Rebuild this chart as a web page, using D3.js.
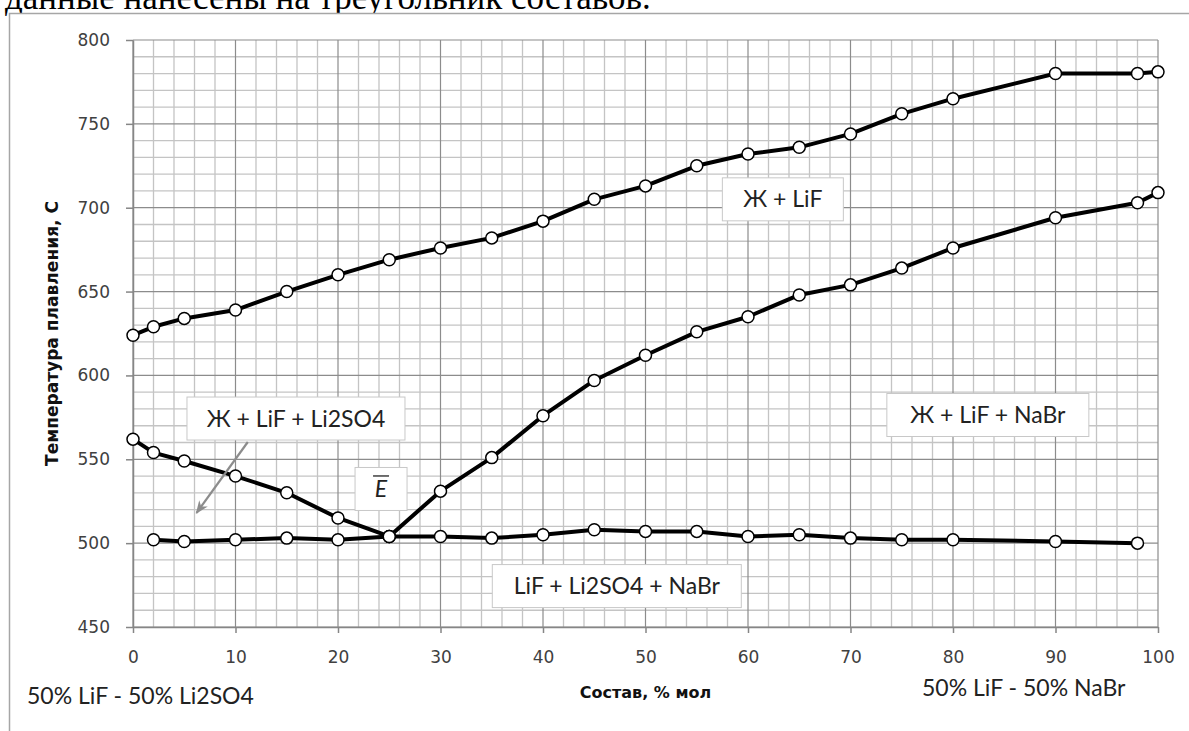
<!DOCTYPE html>
<html lang="ru">
<head>
<meta charset="UTF-8">
<title>Температура плавления</title>
<script src="https://cdn.jsdelivr.net/npm/d3@7"></script>
<style>
  html, body { margin: 0; padding: 0; background: #fff; }
  svg { display: block; }
</style>
</head>
<body>
<svg width="1189" height="731"></svg>
<script>
// --- данные ---
var xLiF = [0, 2, 5, 10, 15, 20, 25, 30, 35, 40, 45, 50, 55, 60, 65, 70, 75, 80, 90, 98, 100];
var tLiF = [624, 629, 634, 639, 650, 660, 669, 676, 682, 692, 705, 713, 725, 732, 736, 744, 756, 765, 780, 780, 781];

var xLi2SO4 = [0, 2, 5, 10, 15, 20, 25];
var tLi2SO4 = [562, 554, 549, 540, 530, 515, 504];

var xNaBr = [25, 30, 35, 40, 45, 50, 55, 60, 65, 70, 75, 80, 90, 98, 100];
var tNaBr = [504, 531, 551, 576, 597, 612, 626, 635, 648, 654, 664, 676, 694, 703, 709];

var xSolid = [2, 5, 10, 15, 20, 25, 30, 35, 40, 45, 50, 55, 60, 65, 70, 75, 80, 90, 98];
var tSolid = [502, 501, 502, 503, 502, 504, 504, 503, 505, 508, 507, 507, 504, 505, 503, 502, 502, 501, 500];

var xTicks = d3.range(0, 101, 10);
var yTicks = d3.range(450, 801, 50);

var series = [
  { x: xLiF, t: tLiF },
  { x: xLi2SO4, t: tLi2SO4 },
  { x: xNaBr, t: tNaBr },
  { x: xSolid, t: tSolid }
];

// подписи областей (центр в координатах данных)
var fieldLabels = ["Ж + LiF", "Ж + LiF + NaBr", "Ж + LiF + Li2SO4", "E", "LiF + Li2SO4 + NaBr"];
var fieldX = [63.4, 83.4, 15.9, 24.2, 47.2];
var fieldT = [705, 576.4, 574.3, 532.3, 474.4];
var fieldW = [121, 202, 218, 52, 249];

var svg = d3.select("svg");

var x = d3.scaleLinear().domain([0, 100]).range([133, 1158]);
var y = d3.scaleLinear().domain([450, 800]).range([627, 40]);

// обрезанная строка текста сверху
svg.append("text")
  .attr("x", 5).attr("y", 9)
  .style("font-family", "'Liberation Serif', 'Times New Roman', serif")
  .style("font-size", "35px")
  .attr("fill", "#000")
  .text("данные нанесены на треугольник составов.");

// рамка диаграммы
svg.append("rect")
  .attr("x", 9.5).attr("y", 13.5)
  .attr("width", 1300).attr("height", 900)
  .attr("fill", "#fff")
  .attr("stroke", "#a6a6a6")
  .attr("stroke-width", 1.5);

// сетка
var grid = svg.append("g");
grid.selectAll(".vmin")
  .data(d3.range(0, 101, 2).filter(function(d) { return d % 10; }))
  .enter().append("line")
  .attr("x1", function(d) { return x(d); }).attr("x2", function(d) { return x(d); })
  .attr("y1", y(800)).attr("y2", y(450))
  .attr("stroke", "#c4c4c4").attr("stroke-width", 1.3);
grid.selectAll(".hmin")
  .data(d3.range(450, 801, 10).filter(function(d) { return d % 50; }))
  .enter().append("line")
  .attr("y1", function(d) { return y(d); }).attr("y2", function(d) { return y(d); })
  .attr("x1", x(0)).attr("x2", x(100))
  .attr("stroke", "#c4c4c4").attr("stroke-width", 1.3);
grid.selectAll(".vmaj")
  .data(xTicks)
  .enter().append("line")
  .attr("x1", function(d) { return x(d); }).attr("x2", function(d) { return x(d); })
  .attr("y1", y(800)).attr("y2", y(450))
  .attr("stroke", "#8c8c8c").attr("stroke-width", 1.2);
grid.selectAll(".hmaj")
  .data(yTicks)
  .enter().append("line")
  .attr("y1", function(d) { return y(d); }).attr("y2", function(d) { return y(d); })
  .attr("x1", x(0)).attr("x2", x(100))
  .attr("stroke", "#8c8c8c").attr("stroke-width", 1.2);

// оси
var xAxis = svg.append("g")
  .attr("transform", "translate(0," + y(450) + ")")
  .call(d3.axisBottom(x).tickValues(xTicks).tickSize(6).tickSizeOuter(0).tickPadding(18));
var yAxis = svg.append("g")
  .attr("transform", "translate(" + x(0) + ",0)")
  .call(d3.axisLeft(y).tickValues(yTicks).tickSize(7).tickSizeOuter(0).tickPadding(16));

[xAxis, yAxis].forEach(function(a) {
  a.select(".domain").attr("stroke", "#868686").attr("stroke-width", 1.5);
  a.selectAll(".tick line").attr("stroke", "#868686").attr("stroke-width", 1.5);
  a.selectAll(".tick text")
    .style("font-family", "'DejaVu Sans', Verdana, sans-serif")
    .style("font-size", "17px")
    .attr("fill", "#404040");
});

// линии
var line = d3.line()
  .x(function(d) { return x(d[0]); })
  .y(function(d) { return y(d[1]); });

svg.append("g").selectAll("path")
  .data(series)
  .enter().append("path")
  .attr("d", function(s) { return line(d3.zip(s.x, s.t)); })
  .attr("fill", "none")
  .attr("stroke", "#000")
  .attr("stroke-width", 4)
  .attr("stroke-linejoin", "round");

// маркеры
series.forEach(function(s) {
  svg.append("g").selectAll("circle")
    .data(d3.zip(s.x, s.t))
    .enter().append("circle")
    .attr("cx", function(d) { return x(d[0]); })
    .attr("cy", function(d) { return y(d[1]); })
    .attr("r", 6)
    .attr("fill", "#fff")
    .attr("stroke", "#000")
    .attr("stroke-width", 1.5);
});

// стрелка
svg.append("defs").append("marker")
  .attr("id", "arr")
  .attr("viewBox", "0 0 10 10")
  .attr("refX", 9).attr("refY", 5)
  .attr("markerWidth", 6).attr("markerHeight", 6)
  .attr("orient", "auto")
  .append("path")
  .attr("d", "M0,1 L10,5 L0,9 L3,5 Z")
  .attr("fill", "#8c8c8c");

svg.append("line")
  .attr("x1", x(11.2)).attr("y1", y(560.3))
  .attr("x2", x(6.2)).attr("y2", y(518))
  .attr("stroke", "#8c8c8c")
  .attr("stroke-width", 2.2)
  .attr("marker-end", "url(#arr)");

// подписи областей
var fg = svg.append("g").selectAll("g")
  .data(fieldLabels)
  .enter().append("g")
  .attr("transform", function(d, i) { return "translate(" + x(fieldX[i]) + "," + y(fieldT[i]) + ")"; });

fg.append("rect")
  .attr("x", function(d, i) { return -fieldW[i] / 2; })
  .attr("y", -21.5)
  .attr("width", function(d, i) { return fieldW[i]; })
  .attr("height", 43)
  .attr("fill", "#fff")
  .attr("stroke", "#c8c8c8")
  .attr("stroke-width", 1);

fg.append("text")
  .attr("text-anchor", "middle")
  .attr("dy", "0.35em")
  .style("font-family", "Lato, 'Open Sans', sans-serif")
  .style("font-size", "23px")
  .style("font-style", function(d) { return d === "E" ? "italic" : null; })
  .attr("fill", "#222")
  .text(function(d) { return d; });

// черта над E
fg.filter(function(d) { return d === "E"; })
  .append("line")
  .attr("x1", -8).attr("x2", 8)
  .attr("y1", -13).attr("y2", -13)
  .attr("stroke", "#222").attr("stroke-width", 1.3);

// подписи осей
svg.append("text")
  .attr("transform", "translate(52," + ((y(800) + y(450)) / 2) + ") rotate(-90)")
  .attr("text-anchor", "middle")
  .attr("dy", "0.35em")
  .attr("textLength", 265)
  .attr("lengthAdjust", "spacingAndGlyphs")
  .style("font-family", "'Liberation Sans Narrow', 'DejaVu Sans Condensed', sans-serif")
  .style("font-size", "18px")
  .style("font-weight", "bold")
  .attr("fill", "#111")
  .text("Температура плавления, С");

svg.append("text")
  .attr("x", (x(0) + x(100)) / 2).attr("y", 692)
  .attr("text-anchor", "middle")
  .attr("dy", "0.35em")
  .style("font-family", "'DejaVu Sans', sans-serif")
  .style("font-size", "16px")
  .style("font-weight", "bold")
  .attr("fill", "#111")
  .text("Состав, % мол");

svg.append("text")
  .attr("x", 27).attr("y", 696)
  .attr("dy", "0.35em")
  .style("font-family", "Lato, 'Open Sans', sans-serif")
  .style("font-size", "23px")
  .attr("fill", "#222")
  .text("50% LiF - 50% Li2SO4");

svg.append("text")
  .attr("x", 922).attr("y", 688)
  .attr("dy", "0.35em")
  .style("font-family", "Lato, 'Open Sans', sans-serif")
  .style("font-size", "23px")
  .attr("fill", "#222")
  .text("50% LiF - 50% NaBr");
</script>
</body>
</html>
